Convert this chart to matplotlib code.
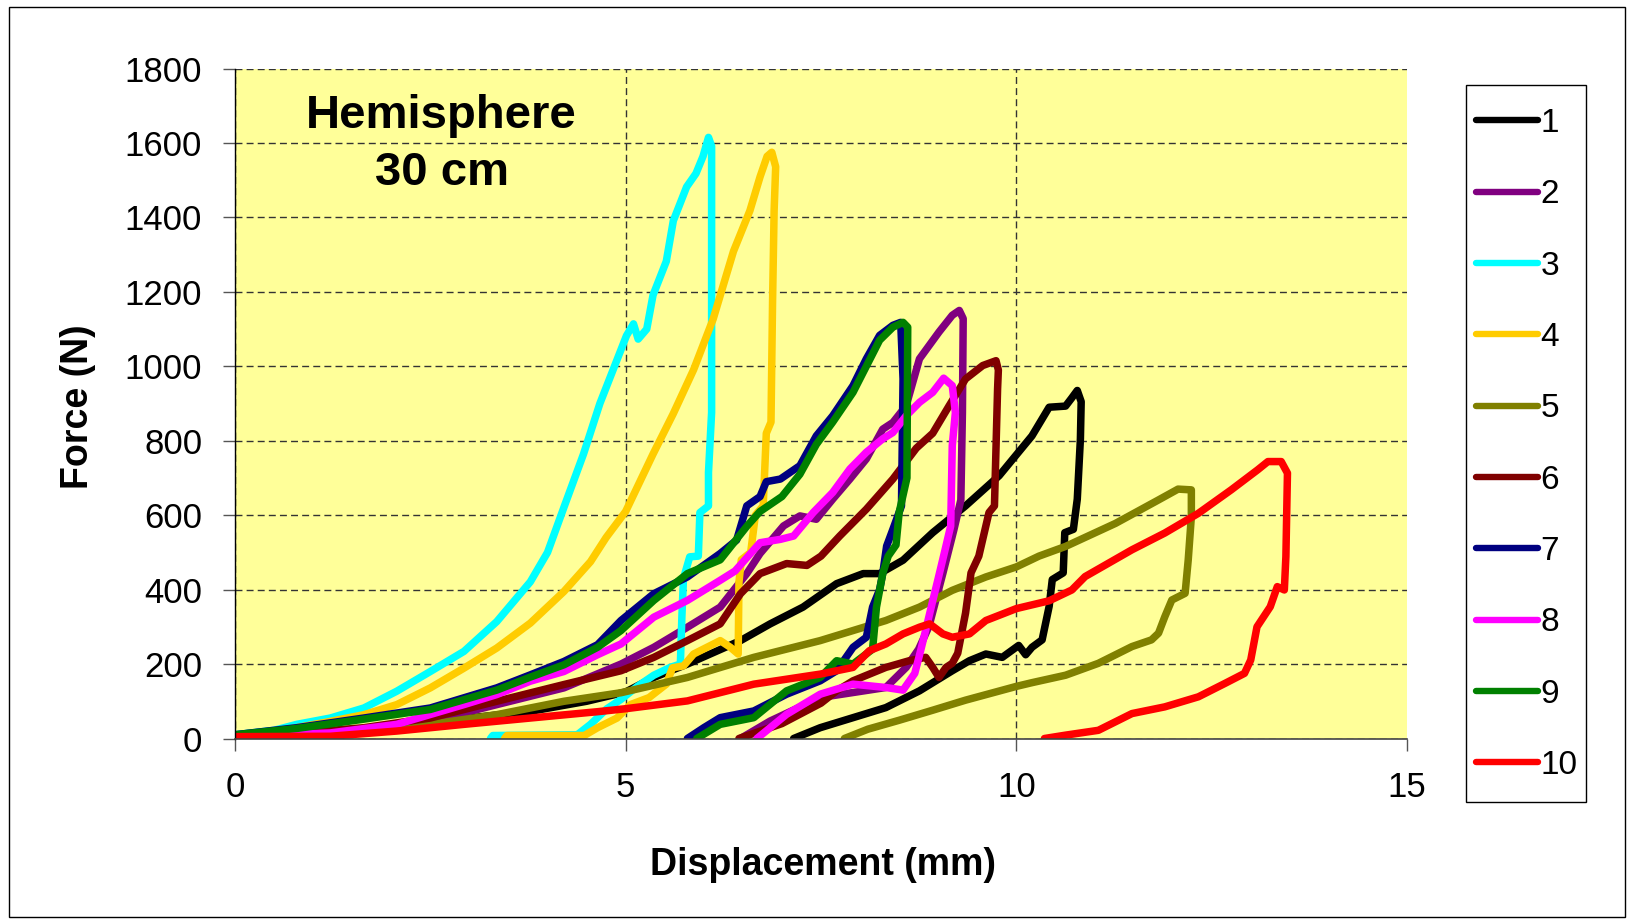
import matplotlib
matplotlib.use("Agg")
import matplotlib.pyplot as plt
from matplotlib.patches import Rectangle

# Force-displacement loops, hemisphere impactor, 30 cm drop (10 tests)
disp_1 = [0, 1, 2, 3, 3.78, 4.5, 5, 5.36, 5.79, 6.47, 6.85, 7.27, 7.7, 8.04, 8.25, 8.55, 8.93, 9.35, 9.78,
          10.2, 10.42, 10.63, 10.71, 10.78, 10.83, 10.82, 10.78, 10.73, 10.62, 10.6, 10.46, 10.42, 10.33,
          10.2, 10.12, 10.03, 9.82, 9.61, 9.4, 9.18, 8.97, 8.76, 8.33, 7.91, 7.49, 7.15]
force_1 = [5, 12, 30, 55, 73, 100, 125, 164, 200, 263, 308, 353, 416, 443, 443, 479, 553, 625, 706,
           813, 890, 893, 915, 935, 905, 805, 643, 562, 553, 445, 427, 355, 265,
           245, 225, 250, 218, 227, 209, 182, 155, 128, 83, 56, 29, 0]

disp_2 = [0, 1, 2, 2.5, 3.35, 4.21, 4.94, 5.36, 5.79, 6.21, 6.55, 6.72, 7.02, 7.23, 7.44, 7.65, 7.87, 8.08,
          8.29, 8.42, 8.59, 8.76, 9.01, 9.18, 9.27, 9.32, 9.31, 9.29, 9.2, 9.06, 8.97, 8.88, 8.75, 8.59,
          8.33, 7.49, 6.85, 6.47]
force_2 = [5, 12, 28, 46, 91, 136, 200, 245, 299, 353, 443, 497, 571, 598, 589, 643, 697, 751,
           831, 849, 894, 1020, 1092, 1137, 1150, 1128, 876, 641, 560, 444, 372, 300, 240, 191,
           137, 110, 47, 0]

disp_3 = [0, 0.5, 0.79, 1.22, 1.65, 2.07, 2.5, 2.93, 3.35, 3.78, 4.0, 4.22, 4.46, 4.67, 4.84, 5.01, 5.1,
          5.16, 5.27, 5.35, 5.52, 5.61, 5.78, 5.9, 5.99, 6.06, 6.1, 6.1, 6.06, 6.06, 5.95, 5.93, 5.82,
          5.74, 5.72, 5.7, 5.57, 5.36, 5.15, 4.94, 4.76, 4.55, 4.38, 3.3, 3.27]
force_3 = [10, 22, 38, 55, 82, 127, 180, 234, 314, 421, 500, 627, 764, 900, 991, 1082, 1114,
           1073, 1100, 1191, 1282, 1391, 1482, 1518, 1564, 1615, 1591, 876, 715, 625, 607, 490, 488,
           430, 330, 200, 191, 170, 140, 105, 80, 38, 10, 8, 0]

disp_4 = [0, 0.5, 1.22, 1.65, 2.07, 2.5, 2.93, 3.35, 3.78, 4.21, 4.55, 4.75, 5.0, 5.35, 5.61, 5.87, 6.12,
          6.38, 6.59, 6.72, 6.81, 6.87, 6.92, 6.9, 6.88, 6.86, 6.8, 6.76, 6.66, 6.6, 6.48, 6.45, 6.44,
          6.34, 6.21, 6.04, 5.87, 5.74, 5.6, 5.52, 5.3, 5.06, 4.89, 4.64, 4.47, 3.48, 3.45]
force_4 = [8, 18, 46, 64, 91, 136, 189, 243, 310, 395, 475, 540, 610, 764, 873, 991, 1127,
           1309, 1418, 1509, 1564, 1575, 1536, 1418, 1173, 850, 820, 625, 600, 500, 480, 420, 227,
           245, 263, 245, 227, 195, 190, 146, 110, 91, 55, 29, 8, 8, 0]

disp_5 = [0, 1, 1.65, 2.5, 3.35, 4.21, 4.94, 5.79, 6.64, 7.49, 7.91, 8.33, 8.76, 9.18, 9.61, 10.0, 10.29,
          10.63, 11.27, 11.82, 12.07, 12.24, 12.24, 12.2, 12.16, 11.99, 11.9, 11.82, 11.73, 11.48, 11.05,
          10.63, 10.2, 10.0, 9.35, 8.93, 8.5, 8.1, 7.8]
force_5 = [5, 12, 20, 38, 64, 100, 123, 164, 218, 263, 290, 317, 353, 398, 434, 461, 490,
           516, 578, 641, 670, 668, 596, 480, 390, 372, 327, 283, 265, 247, 202,
           170, 150, 140, 103, 76, 49, 25, 0]

disp_6 = [0, 1, 1.65, 2.5, 3.35, 4.21, 4.94, 5.36, 5.79, 6.21, 6.47, 6.72, 7.06, 7.32, 7.5, 7.74, 8.08,
          8.42, 8.72, 8.93, 9.14, 9.35, 9.57, 9.74, 9.77, 9.76, 9.72, 9.65, 9.52, 9.42, 9.35, 9.3, 9.25,
          9.18, 9.1, 9.01, 8.93, 8.84, 8.63, 8.33, 7.91, 7.7, 7.5, 7.0, 6.45]
force_6 = [8, 18, 29, 55, 100, 145, 182, 218, 263, 308, 389, 443, 470, 465, 490, 544, 616,
           697, 780, 820, 894, 966, 1002, 1015, 990, 939, 625, 607, 490, 445, 337, 283, 229,
           202, 191, 164, 191, 218, 209, 191, 155, 128, 95, 40, 0]

disp_7 = [0, 0.79, 1.65, 2.5, 3.35, 3.78, 4.21, 4.64, 4.94, 5.36, 5.79, 6.21, 6.42, 6.55, 6.72, 6.8, 6.98,
          7.23, 7.44, 7.65, 7.91, 8.08, 8.25, 8.42, 8.52, 8.55, 8.53, 8.42, 8.34, 8.29, 8.25, 8.16, 8.08,
          7.91, 7.7, 7.49, 7.06, 6.64, 6.21, 6.0, 5.79]
force_7 = [10, 29, 55, 82, 136, 171, 207, 252, 317, 389, 434, 497, 533, 625, 650, 690, 697,
           733, 813, 867, 948, 1020, 1083, 1110, 1118, 966, 625, 562, 517, 443, 400, 353, 272,
           245, 182, 155, 119, 74, 56, 29, 0]

disp_8 = [0, 1.22, 2.07, 2.93, 3.35, 3.78, 4.21, 4.64, 4.94, 5.36, 5.79, 6.21, 6.4, 6.72, 6.98, 7.15, 7.4,
          7.65, 7.87, 8.08, 8.29, 8.42, 8.59, 8.76, 8.93, 9.07, 9.18, 9.22, 9.18, 9.16, 9.08, 9.0, 8.93,
          8.85, 8.78, 8.7, 8.55, 8.33, 7.91, 7.49, 7.06, 6.68]
force_8 = [5, 15, 38, 91, 118, 154, 180, 225, 254, 326, 371, 425, 450, 526, 535, 544, 607,
           661, 724, 769, 805, 822, 867, 903, 930, 968, 948, 876, 787, 571, 500, 430, 370,
           300, 240, 175, 130, 137, 146, 119, 65, 0]

disp_9 = [0, 0.79, 1.65, 2.5, 3.35, 3.78, 4.21, 4.64, 4.94, 5.36, 5.79, 6.21, 6.55, 6.72, 7.0, 7.23, 7.44,
          7.65, 7.91, 8.08, 8.25, 8.42, 8.55, 8.61, 8.6, 8.5, 8.46, 8.36, 8.29, 8.21, 8.16, 7.91, 7.7,
          7.49, 7.06, 6.64, 6.21, 5.91]
force_9 = [10, 27, 52, 78, 130, 165, 198, 245, 290, 371, 443, 480, 570, 610, 650, 710, 790,
           850, 930, 1000, 1070, 1105, 1118, 1105, 700, 607, 520, 490, 443, 353, 240, 200, 209,
           164, 128, 56, 38, 0]

disp_10 = [0, 1.22, 2.07, 2.93, 3.78, 4.64, 5.0, 5.79, 6.64, 7.49, 7.91, 8.12, 8.33, 8.55, 8.76, 8.89,
           9.06, 9.18, 9.4, 9.61, 10.0, 10.42, 10.71, 10.88, 11.48, 11.9, 12.33, 12.75, 13.09, 13.22,
           13.39, 13.47, 13.45, 13.43, 13.34, 13.25, 13.08, 13.0, 12.92, 12.67, 12.33, 11.9, 11.48,
           11.05, 10.63, 10.36]
force_10 = [5, 6, 20, 38, 55, 72, 80, 101, 146, 173, 191, 236, 254, 281, 299, 308,
            281, 272, 281, 317, 349, 370, 399, 435, 507, 552, 605, 668, 722, 744,
            744, 713, 489, 399, 408, 354, 300, 211, 175, 148, 112, 85, 67,
            22, 9, 0]

series_labels = ["1", "2", "3", "4", "5", "6", "7", "8", "9", "10"]
series_colors = ["#000000", "#800080", "#00FFFF", "#FFCC00", "#808000",
                 "#800000", "#000080", "#FF00FF", "#008000", "#FF0000"]
x_ticks = [0, 5, 10, 15]
y_ticks = [0, 200, 400, 600, 800, 1000, 1200, 1400, 1600, 1800]

all_disp = [disp_1, disp_2, disp_3, disp_4, disp_5, disp_6, disp_7, disp_8, disp_9, disp_10]
all_force = [force_1, force_2, force_3, force_4, force_5, force_6, force_7, force_8, force_9, force_10]

plt.rcParams["font.family"] = ["Liberation Sans", "DejaVu Sans"]

W, H = 1633, 923
fig = plt.figure(figsize=(W / 100, H / 100), dpi=100)
fig.patch.set_facecolor("white")

ax = fig.add_axes([235 / W, 1 - 738.5 / H, (1407 - 235) / W, (738.5 - 68.5) / H])
ax.set_facecolor("#FFFF99")

for d, f, c, lab in zip(all_disp, all_force, series_colors, series_labels):
    ax.plot(d, f, color=c, lw=5.4, solid_joinstyle="round", solid_capstyle="round", label=lab)

ax.set_xlim(0, 15)
ax.set_ylim(0, 1800)
ax.set_xticks(x_ticks)
ax.set_yticks(y_ticks)
ax.tick_params(direction="out", length=8.6, width=1.0, color="#555555",
               labelsize=25, labelcolor="black", pad=15)

ax.set_axisbelow(True)
ax.grid(True, color="#333333", lw=1.0, linestyle=(0, (5, 3)))
ax.get_xgridlines()[-1].set_visible(False)

for side in ("top", "right"):
    ax.spines[side].set_visible(False)
ax.spines["left"].set_color("black")
ax.spines["left"].set_linewidth(1.0)
ax.spines["bottom"].set_color("#444444")
ax.spines["bottom"].set_linewidth(1.2)

fig.text(441.5 / W, 1 - 128.3 / H, "Hemisphere", ha="center", va="baseline",
         fontsize=34, fontweight="bold")
fig.text(442 / W, 1 - 185 / H, "30 cm", ha="center", va="baseline",
         fontsize=34, fontweight="bold")

fig.text(823 / W, 1 - 875 / H, "Displacement (mm)", ha="center", va="baseline",
         fontsize=27, fontweight="bold")
fig.text(78 / W, 1 - 407 / H, "Force (N)", ha="center", va="center", rotation=90,
         fontsize=27, fontweight="bold")

# legend entries without their own frame; the box is drawn separately
leg = ax.legend(loc="upper left", bbox_to_anchor=(1476 / W, 1 - 108 / H),
                bbox_transform=fig.transFigure, borderaxespad=0, borderpad=0,
                frameon=False, fontsize=24,
                handlelength=1.85, handletextpad=0.08, labelspacing=1.21)
for hl in leg.get_lines():
    hl.set_linewidth(4.6)

fig.add_artist(Rectangle((1465.7 / W, 1 - 802 / H), 120 / W, (802 - 85) / H,
                         transform=fig.transFigure, fill=False, ec="black", lw=1.0))

fig.add_artist(Rectangle((9 / W, 1 - 917 / H), (1625 - 9) / W, (917 - 7) / H,
                         transform=fig.transFigure, fill=False, ec="black", lw=1.0))

fig.savefig("out.png", dpi=100)
